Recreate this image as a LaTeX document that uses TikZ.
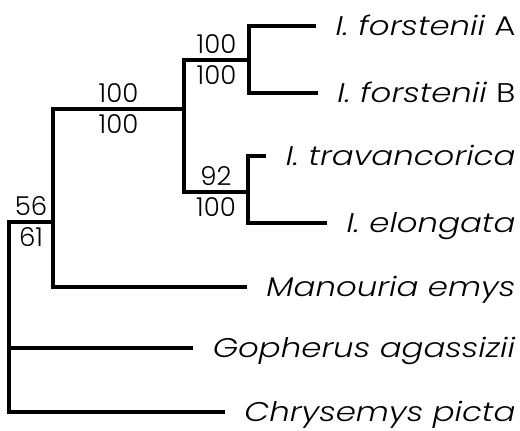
\documentclass[tikz,border=0pt]{standalone}
\usepackage{fontspec}
\setmainfont{Poppins}[UprightFont={* Light}, ItalicFont={* Light Italic}]
\newfontfamily\taxfont{Poppins}[UprightFont={* Light}, ItalicFont={* Light Italic}, FakeStretch=1.2]
\usetikzlibrary{calc}

\begin{document}
\begin{tikzpicture}[x=1pt, y=-1pt, line width=3.2pt,
    taxon/.style={anchor=east, inner sep=0pt, font=\taxfont\fontsize{27}{27}\selectfont, text height=19pt, text depth=0pt},
    supp/.style={inner sep=0pt, inner ysep=5pt, font=\fontsize{26}{26}\selectfont, text height=18pt, text depth=0pt}]

  \useasboundingbox (0,0) rectangle (520,431);

  \def\gap{18} % space between branch tip and name

  % branching points
  \coordinate (n0) at (9,222);
  \coordinate (n1) at (53,222);
  \coordinate (n2) at (184,109);
  \coordinate (n3) at (249,60);
  \coordinate (n4) at (248,192);

  % taxa
  \node[taxon] (fa) at (517,26) {\textit{I. forstenii} A};
  \node[taxon] (fb) at (517,93) {\textit{I. forstenii} B};
  \node[taxon] (tra) at (517,156) {\textit{I. travancorica}};
  \node[taxon] (elo) at (517,223) {\textit{I. elongata}};
  \node[taxon] (man) at (517,287) {\textit{Manouria emys}};
  \node[taxon] (gop) at (517,348) {\textit{Gopherus agassizii}};
  \node[taxon] (chr) at (517,412) {\textit{Chrysemys picta}};

  \draw ([xshift=-\gap]fa.west) -| (n3) |- ([xshift=-\gap]fb.west);
  \draw ([xshift=-\gap]tra.west) -| (n4) |- ([xshift=-\gap]elo.west);
  \draw (n3) -| (n2)
      node[supp, pos=0.25, above] (s3a) {100}
      node[supp, pos=0.25, below] (s3b) {100}
    |- (n4)
      node[supp, pos=0.75, above] (s4a) {92}
      node[supp, pos=0.75, below] (s4b) {100};
  \draw (n2) -| (n1)
      node[supp, pos=0.25, above] (s2a) {100}
      node[supp, pos=0.25, below] (s2b) {100}
    |- ([xshift=-\gap]man.west);
  \draw (n1) -- (n0)
      node[supp, midway, above] (s1a) {56}
      node[supp, midway, below] (s1b) {61}
    |- ([xshift=-\gap]chr.west);
  \draw (n0 |- gop) -- ([xshift=-\gap]gop.west);

\end{tikzpicture}
\end{document}
